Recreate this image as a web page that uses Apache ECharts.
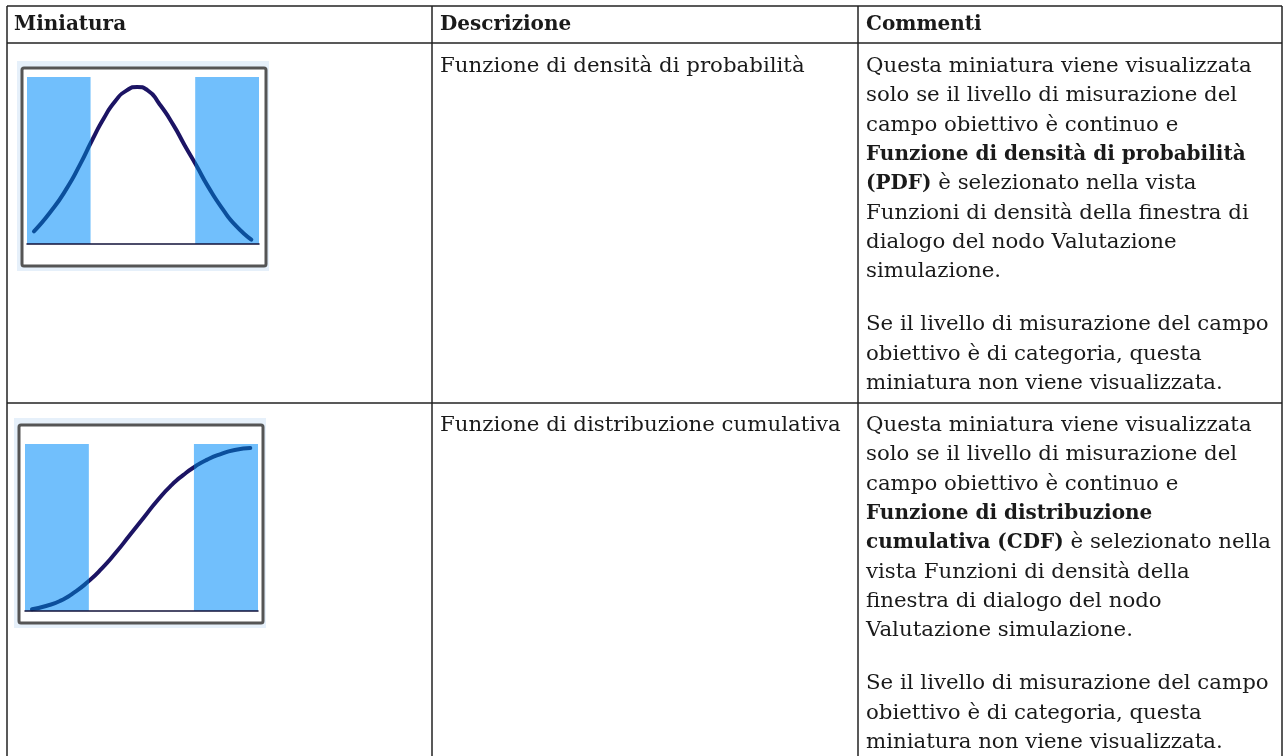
<!DOCTYPE html>
<html>
<head>
<meta charset="utf-8">
<style>
  html, body { margin: 0; padding: 0; background: #fff; }
  #chart { width: 1284px; height: 756px; }
</style>
<script src="https://cdn.jsdelivr.net/npm/echarts@6/dist/echarts.min.js"></script>
</head>
<body>
<div id="chart"></div>
<script>
const pdfPoints = [[3, 7.6], [10, 19], [17, 33], [23, 48], [28, 62], [33, 75], [38, 85.5], [43, 92], [47.5, 94], [52, 92], [57, 84], [63, 71.5], [68, 59], [73, 47], [78, 34.5], [84.5, 20.6], [90, 11], [96.7, 2.6]]
const cdfPoints = [[3, 1], [9, 3], [15, 6], [21, 11], [27, 17.5], [33, 25.5], [39, 35], [45, 45.5], [51, 56], [57, 66.5], [63, 75.5], [68, 81.5], [73, 86.5], [78, 90.5], [84, 94], [90, 96.4], [96.7, 97.6]]
const bands = [[0, 27.4], [72.5, 100]]

const headers = ['Miniatura', 'Descrizione', 'Commenti']
const descriptions = ['Funzione di densità di probabilità', 'Funzione di distribuzione cumulativa']
const comments1 = [
  'Questa miniatura viene visualizzata',
  'solo se il livello di misurazione del',
  'campo obiettivo è continuo e',
  '{b|Funzione di densità di probabilità}',
  '{b|(PDF)} è selezionato nella vista',
  'Funzioni di densità della finestra di',
  'dialogo del nodo Valutazione',
  'simulazione.',
  '',
  'Se il livello di misurazione del campo',
  'obiettivo è di categoria, questa',
  'miniatura non viene visualizzata.'
]
const comments2 = [
  'Questa miniatura viene visualizzata',
  'solo se il livello di misurazione del',
  'campo obiettivo è continuo e',
  '{b|Funzione di distribuzione}',
  '{b|cumulativa (CDF)} è selezionato nella',
  'vista Funzioni di densità della',
  'finestra di dialogo del nodo',
  'Valutazione simulazione.',
  '',
  'Se il livello di misurazione del campo',
  'obiettivo è di categoria, questa',
  'miniatura non viene visualizzata.'
]

const font = '"DejaVu Serif"'
const fontSize = 21.3
const boldSize = 20
const lineGap = 29.3
const ink = '#1a1a1a'

const text = (x, y, str, bold) => ({
  type: 'text', x, y, silent: true,
  style: {
    text: str, fill: ink,
    fontFamily: font, fontSize: bold ? boldSize : fontSize, fontWeight: bold ? 'bold' : 'normal',
    verticalAlign: 'middle',
    rich: { b: { fontFamily: font, fontSize: boldSize, fontWeight: 'bold', fill: ink } }
  }
})
const rule = (x1, y1, x2, y2) => ({
  type: 'line', silent: true, shape: { x1, y1, x2, y2 },
  style: { stroke: '#222', lineWidth: 1.5 }
})
const frame = (x, y, width, height) => [
  { type: 'rect', silent: true, z: -2, shape: { x: x - 5, y: y - 7, width: width + 8, height: height + 12 }, style: { fill: '#e6f0fa' } },
  { type: 'rect', silent: true, z: -1, shape: { x, y, width, height, r: 2 }, style: { fill: '#fff', stroke: '#555', lineWidth: 3 } }
]
// the blank line between the two paragraphs is a bit shorter than a full line
const lineY = (top, i) => top + i * lineGap - (i > 8 ? 5.3 : 0)

const curve = (i, data) => ({
  type: 'line', xAxisIndex: i, yAxisIndex: i, data, smooth: 0.6, symbol: 'none', z: 5,
  lineStyle: { width: 4, cap: 'round' },
  markArea: {
    silent: true, z: 1,
    itemStyle: { color: '#71bffc', opacity: 1 },
    data: bands.map(b => [{ xAxis: b[0] }, { xAxis: b[1] }])
  }
})

const xAxis = i => ({
  type: 'value', gridIndex: i, min: 0, max: 100, axisLabel: { show: false }, axisTick: { show: false }, splitLine: { show: false },
  axisLine: { show: true, onZero: false, lineStyle: { color: '#12123a', width: 1.5 } }, z: 6
})
const yAxis = i => ({
  type: 'value', gridIndex: i, min: 0, max: 100, show: false
})

const myChart = echarts.init(document.getElementById('chart'))
myChart.setOption({
  backgroundColor: '#fff',
  animation: false,
  grid: [
    { left: 27, width: 232, top: 77, height: 167 },
    { left: 25, width: 233, top: 444, height: 167 }
  ],
  xAxis: [xAxis(0), xAxis(1)],
  yAxis: [yAxis(0), yAxis(1)],
  // curve reads navy on white and mid blue over the bands
  visualMap: [0, 1].map(i => ({
    type: 'piecewise', show: false, seriesIndex: i, dimension: 0,
    pieces: [
      { lt: bands[0][1], color: '#0b4f9c' },
      { gte: bands[0][1], lt: bands[1][0], color: '#1c1464' },
      { gte: bands[1][0], color: '#0b4f9c' }
    ]
  })),
  series: [curve(0, pdfPoints), curve(1, cdfPoints)],
  graphic: [
    ...frame(22, 68, 244, 198),
    ...frame(19, 425, 244, 198),
    rule(7, 6, 1282, 6), rule(7, 43, 1282, 43), rule(7, 403, 1282, 403),
    rule(7, 6, 7, 756), rule(432, 6, 432, 756), rule(858, 6, 858, 756), rule(1282, 6, 1282, 756),
    text(14, 24.5, headers[0], true), text(440, 24.5, headers[1], true), text(866, 24.5, headers[2], true),
    text(440, 66.5, descriptions[0]), text(440, 425.5, descriptions[1]),
    ...comments1.map((s, i) => text(866, lineY(66.5, i), s)),
    ...comments2.map((s, i) => text(866, lineY(425.5, i), s))
  ]
})
</script>
</body>
</html>
